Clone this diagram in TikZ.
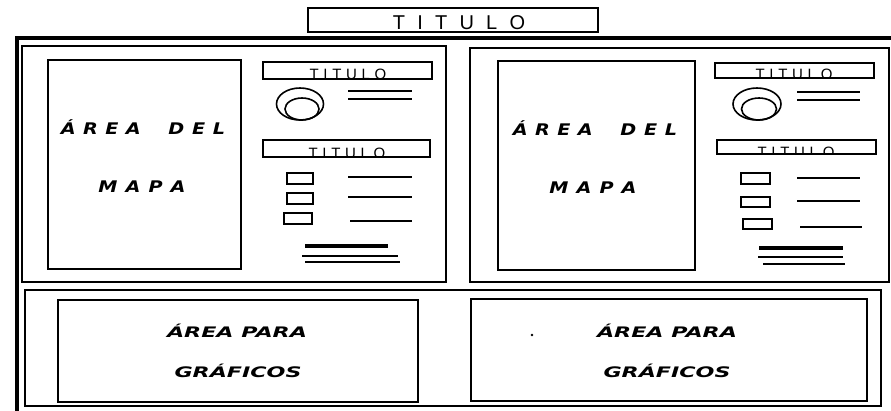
\documentclass[tikz,border=0pt]{standalone}
\usepackage{fontspec}
\usepackage{graphicx}
\setmainfont{Liberation Sans}
\newfontfamily\djv{DejaVu Sans}
\usetikzlibrary{shapes.geometric}
\newcommand\rbox[6][]{\node[box,#1, minimum width={(#5-#3)}, minimum height={(#6-#4)}] (#2) at ({(#3+#5)/2},{(#4+#6)/2}) {};}
\newcommand\titword[1]{T\hspace{#1}I\hspace{#1}T\hspace{#1}U\hspace{#1}L\hspace{#1}O}
\newcommand\areadel{\scalebox{1.2}[1]{Á\hspace{6.2pt}R\hspace{6.2pt}E\hspace{6.2pt}A\hspace{23pt}D\hspace{6.5pt}E\hspace{6.5pt}L}}
\newcommand\mapa{\scalebox{1.2}[1]{M\hspace{6.7pt}A\hspace{6.7pt}P\hspace{6.7pt}A}}
% clipped legend title: #1 box name, #2 x, #3 baseline y
\newcommand\legtit[3]{\begin{scope}\clip (#1.south west) rectangle (#1.north east);
  \node[smtit] (#1t) at (#2,#3) {\titword{4.7pt}};\end{scope}}
\begin{document}
\begin{tikzpicture}[x=1pt,y=-1pt,
  box/.style={draw, line width=1.6pt, inner sep=0pt, outer sep=0pt},
  ln/.style={line width=1.6pt},
  thk/.style={line width=3.2pt},
  ell/.style={draw, ellipse, line width=1.6pt, inner sep=0pt, outer sep=0pt},
  bigtxt/.style={anchor=base, inner sep=0pt, font=\fontsize{20}{22}\selectfont},
  smtit/.style={anchor=base, inner sep=0pt, font=\fontsize{15}{16}\selectfont},
  maptxt/.style={anchor=base, inner sep=0pt, font=\djv\bfseries\itshape\fontsize{16}{18}\selectfont},
  gratxt/.style={anchor=base, inner sep=0pt, font=\djv\bfseries\itshape\fontsize{14.5}{16}\selectfont}]
\useasboundingbox (0,0) rectangle (891,410);
\clip (0,0) rectangle (891,410);
% outer thick frame
\coordinate (fbl) at (17,414);
\coordinate (ftl) at (17,38);
\coordinate (ftr) at (895,38);
\draw[line width=3.6pt] (fbl) -- (ftl) -- (ftr);
% main title
\rbox[line width=1.9pt]{title}{308}{8}{598}{32}
\node[bigtxt] (titletxt) at (459,29.5) {\titword{12.2pt}};
% upper panels
\rbox{lpanel}{22}{46}{446}{282}
\rbox{rpanel}{470}{48}{889}{282}
% map boxes
\rbox{lmap}{48}{60}{241}{269}
\rbox{rmap}{498}{61}{695}{270}
\node[maptxt] (lmap1) at (143,134) {\areadel};
\node[maptxt] (lmap2) at (142,192) {\mapa};
\node[maptxt] (rmap1) at (595,135) {\areadel};
\node[maptxt] (rmap2) at (593,193) {\mapa};
% left legend
\rbox{ltit1}{263}{62}{432}{79}
\legtit{ltit1}{348}{79.5}
\node[ell, minimum width=47, minimum height=32] (lcirc) at (300,104) {};
\node[ell, minimum width=34, minimum height=22] (lcircin) at (302,109) {};
\draw[ln] (348,91) -- (412,91);
\draw[ln] (348,99) -- (412,99);
\rbox{ltit2}{263}{140}{430}{157}
\legtit{ltit2}{347}{158}
\rbox{lsq1}{287}{173}{313}{184}
\rbox{lsq2}{287}{193}{313}{204}
\rbox{lsq3}{284}{213}{312}{224}
\draw[ln] (348,177) -- (412,177);
\draw[ln] (348,197) -- (412,197);
\draw[ln] (350,221) -- (412,221);
\draw[thk] (305,246) -- (388,246);
\draw[ln] (302,256) -- (398,256);
\draw[ln] (305,262) -- (400,262);
% right legend
\rbox{rtit1}{715}{63}{874}{78}
\legtit{rtit1}{794}{79.5}
\node[ell, minimum width=48, minimum height=32] (rcirc) at (757,104) {};
\node[ell, minimum width=35, minimum height=22] (rcircin) at (759,109) {};
\draw[ln] (797,92) -- (860,92);
\draw[ln] (797,100) -- (860,100);
\rbox{rtit2}{717}{140}{876}{154}
\legtit{rtit2}{796}{157}
\rbox{rsq1}{741}{173}{770}{184}
\rbox{rsq2}{741}{197}{770}{207}
\rbox{rsq3}{743}{219}{772}{229}
\draw[ln] (797,178) -- (860,178);
\draw[ln] (797,201) -- (860,201);
\draw[ln] (800,227) -- (862,227);
\draw[thk] (759,248) -- (843,248);
\draw[ln] (758,257) -- (843,257);
\draw[ln] (763,264) -- (845,264);
% bottom section
\rbox{bottom}{25}{290}{881}{406}
\rbox{lgraf}{58}{300}{418}{402}
\rbox{rgraf}{471}{299}{867}{401}
\node[gratxt] (lg1) at (237,337) {\scalebox{1.53}[1]{ÁREA PARA}};
\node[gratxt] (lg2) at (238,377) {\scalebox{1.53}[1]{GRÁFICOS}};
\node[gratxt] (rg1) at (667,337) {\scalebox{1.53}[1]{ÁREA PARA}};
\node[gratxt] (rg2) at (667,377) {\scalebox{1.53}[1]{GRÁFICOS}};
\fill (532,335) circle[radius=1.3pt];
\end{tikzpicture}
\end{document}
